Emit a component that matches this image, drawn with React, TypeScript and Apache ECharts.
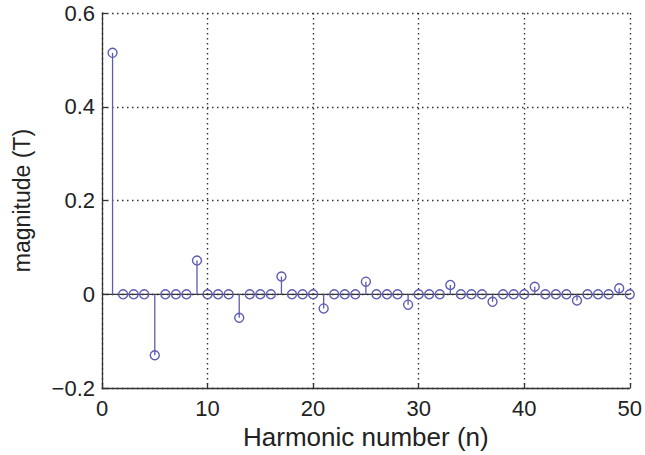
import React, { useEffect, useRef } from "react";
import * as echarts from "echarts";

// Harmonic index and stem magnitude (T)
const harmonics: number[] = Array.from({ length: 50 }, (_, i) => i + 1);
const magnitudes: number[] = [
  0.515, 0, 0, 0, -0.13, 0, 0, 0, 0.072, 0,
  0, 0, -0.05, 0, 0, 0, 0.038, 0, 0, 0,
  -0.03, 0, 0, 0, 0.027, 0, 0, 0, -0.022, 0,
  0, 0, 0.02, 0, 0, 0, -0.016, 0, 0, 0,
  0.016, 0, 0, 0, -0.013, 0, 0, 0, 0.013, 0,
];
const xRange: number[] = [0, 50];
const yRange: number[] = [-0.2, 0.6];

const STEM = "#5c5cb4";
const INK = "#333333";
const FONT = "Liberation Sans, Arial, Helvetica, sans-serif";

export default function App() {
  const ref = useRef<HTMLDivElement>(null);

  useEffect(() => {
    if (!ref.current) return;
    const chart = echarts.init(ref.current, null, { renderer: "svg" });
    const stems = harmonics.map((n, i) => [n, magnitudes[i]]);

    chart.setOption({
      animation: false,
      backgroundColor: "#ffffff",
      grid: { left: 102, right: 14, top: 13, bottom: 65, containLabel: false },
      xAxis: {
        type: "value",
        min: xRange[0],
        max: xRange[1],
        interval: 10,
        name: "Harmonic number (n)",
        nameLocation: "middle",
        nameGap: 31,
        nameTextStyle: { color: "#222", fontSize: 26, fontFamily: FONT },
        axisLine: { show: true, onZero: false, lineStyle: { color: INK, width: 1.3 } },
        axisTick: { show: true, inside: true, length: 5, lineStyle: { color: INK, width: 1.3 } },
        axisLabel: { color: "#222", fontSize: 22, fontFamily: FONT, margin: 9 },
        splitLine: { show: true, lineStyle: { color: "#333", width: 1.4, type: [1.5, 3.5] } },
      },
      yAxis: {
        type: "value",
        min: yRange[0],
        max: yRange[1],
        interval: 0.2,
        name: "magnitude (T)",
        nameLocation: "middle",
        nameGap: 69,
        nameTextStyle: { color: "#222", fontSize: 23, fontFamily: FONT },
        axisLine: { show: true, onZero: false, lineStyle: { color: INK, width: 1.3 } },
        axisTick: { show: true, inside: true, length: 5, lineStyle: { color: INK, width: 1.3 } },
        axisLabel: {
          color: "#222",
          fontSize: 22,
          fontFamily: FONT,
          margin: 7,
          formatter: (v: number) => {
            const r = Math.round(v * 10) / 10;
            if (r === 0) return "0";
            return r < 0 ? "\u2212" + Math.abs(r).toFixed(1) : r.toFixed(1);
          },
        },
        splitLine: { show: true, lineStyle: { color: "#333", width: 1.4, type: [1.5, 3.5] } },
      },
      series: [
        {
          // stem baseline
          type: "line",
          data: [
            [xRange[0], 0],
            [xRange[1], 0],
          ],
          symbol: "none",
          lineStyle: { color: INK, width: 1.3 },
          z: 2,
        },
        {
          type: "custom",
          data: stems,
          z: 3,
          renderItem: (_params: any, api: any) => {
            const n = api.value(0);
            const v = api.value(1);
            const base = api.coord([n, 0]);
            const tip = api.coord([n, v]);
            return {
              type: "group",
              children: [
                {
                  type: "line",
                  shape: { x1: base[0], y1: base[1], x2: tip[0], y2: tip[1] },
                  style: { stroke: STEM, lineWidth: 1.3 },
                },
                {
                  type: "circle",
                  shape: { cx: tip[0], cy: tip[1], r: 4.5 },
                  style: { fill: "none", stroke: STEM, lineWidth: 1.4 },
                },
              ],
            };
          },
        },
      ],
    });

    return () => chart.dispose();
  }, []);

  return (
    <div
      ref={ref}
      style={{ position: "absolute", left: 0, top: 0, width: 645, height: 455 }}
    />
  );
}
